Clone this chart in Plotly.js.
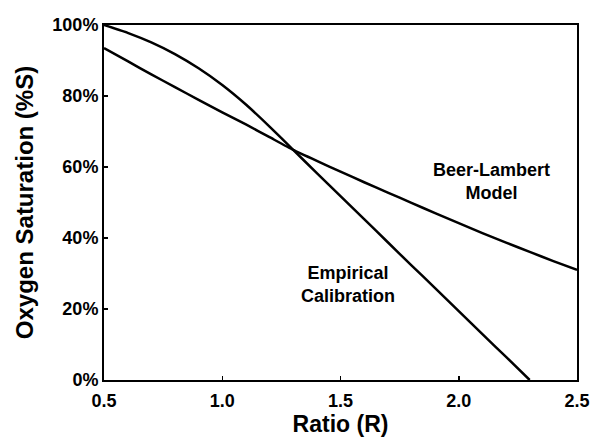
<!DOCTYPE html>
<html>
<head>
<meta charset="utf-8">
<script src="https://cdn.plot.ly/plotly-3.0.1.min.js"></script>
<style>html,body{margin:0;padding:0;background:#fff;}#chart{width:591px;height:443px;}</style>
</head>
<body>
<div id="chart"></div>
<script>
// Ratio R values
const ratio = [0.5,0.6,0.7,0.8,0.9,1.0,1.1,1.2,1.3,1.4,1.5,1.6,1.7,1.8,1.9,2.0,2.1,2.2,2.3,2.4,2.5];
// Empirical calibration (% saturation)
const empiricalX = [0.5,0.6,0.7,0.8,0.9,1.0,1.1,1.2,1.3,1.4,1.5,1.6,1.7,1.8,1.9,2.0,2.1,2.2,2.3];
const empiricalY = [100,97.8,95.1,91.8,87.8,83.1,77.6,71.4,64.8,58.3,51.8,45.3,38.8,32.3,25.9,19.4,12.9,6.5,0];
// Beer-Lambert model (% saturation)
const beerY = [93.5,89.8,86.1,82.5,78.9,75.4,72.0,68.4,64.8,61.7,58.7,55.7,52.8,49.9,47.0,44.2,41.4,38.7,36.1,33.5,31.0];

const xTicks = [0.5,1.0,1.5,2.0,2.5];
const xTickText = ['0.5','1.0','1.5','2.0','2.5'];
const yTicks = [0,20,40,60,80,100];
const yTickText = ['0%','20%','40%','60%','80%','100%'];

const F = 'Arial, "Liberation Sans", sans-serif';

const traces = [
  {x: empiricalX, y: empiricalY, mode:'lines', line:{color:'#000', width:2.5, shape:'spline', smoothing:0.4}, hoverinfo:'skip', cliponaxis:false},
  {x: ratio, y: beerY, mode:'lines', line:{color:'#000', width:2.5, shape:'spline', smoothing:0.4}, hoverinfo:'skip', cliponaxis:false}
];

const layout = {
  width:591, height:443,
  margin:{l:104, r:14, t:25, b:63},
  paper_bgcolor:'#fff', plot_bgcolor:'#fff',
  showlegend:false,
  font:{family:F, color:'#000'},
  xaxis:{
    range:[0.5,2.5], tickvals:xTicks, ticktext:xTickText,
    showgrid:false, zeroline:false, showline:true, linecolor:'#000', linewidth:2, mirror:true,
    ticks:'inside', ticklen:4, tickcolor:'#000', tickwidth:1.5,
    tickfont:{family:F, size:18, color:'#000', weight:'bold'},
    ticklabelstandoff:3,
    title:{text:'Ratio (R)', font:{family:F, size:23, color:'#000', weight:'bold'}, standoff:5}
  },
  yaxis:{
    range:[0,100], tickvals:yTicks, ticktext:yTickText,
    showgrid:false, zeroline:false, showline:true, linecolor:'#000', linewidth:2, mirror:true,
    ticks:'inside', ticklen:4, tickcolor:'#000', tickwidth:1.5,
    tickfont:{family:F, size:18, color:'#000', weight:'bold'},
    title:{text:'Oxygen Saturation (%S)', font:{family:F, size:24, color:'#000', weight:'bold'}, standoff:12}
  },
  annotations:[
    {x:2.14, y:55.8, xref:'x', yref:'y', text:'Beer-Lambert<br>Model', showarrow:false,
     font:{family:F, size:18, color:'#000', weight:'bold'}, align:'center'},
    {x:1.53, y:26.8, xref:'x', yref:'y', text:'Empirical<br>Calibration', showarrow:false,
     font:{family:F, size:18, color:'#000', weight:'bold'}, align:'center'}
  ]
};

Plotly.newPlot('chart', traces, layout, {staticPlot:true, displayModeBar:false});
</script>
</body>
</html>
